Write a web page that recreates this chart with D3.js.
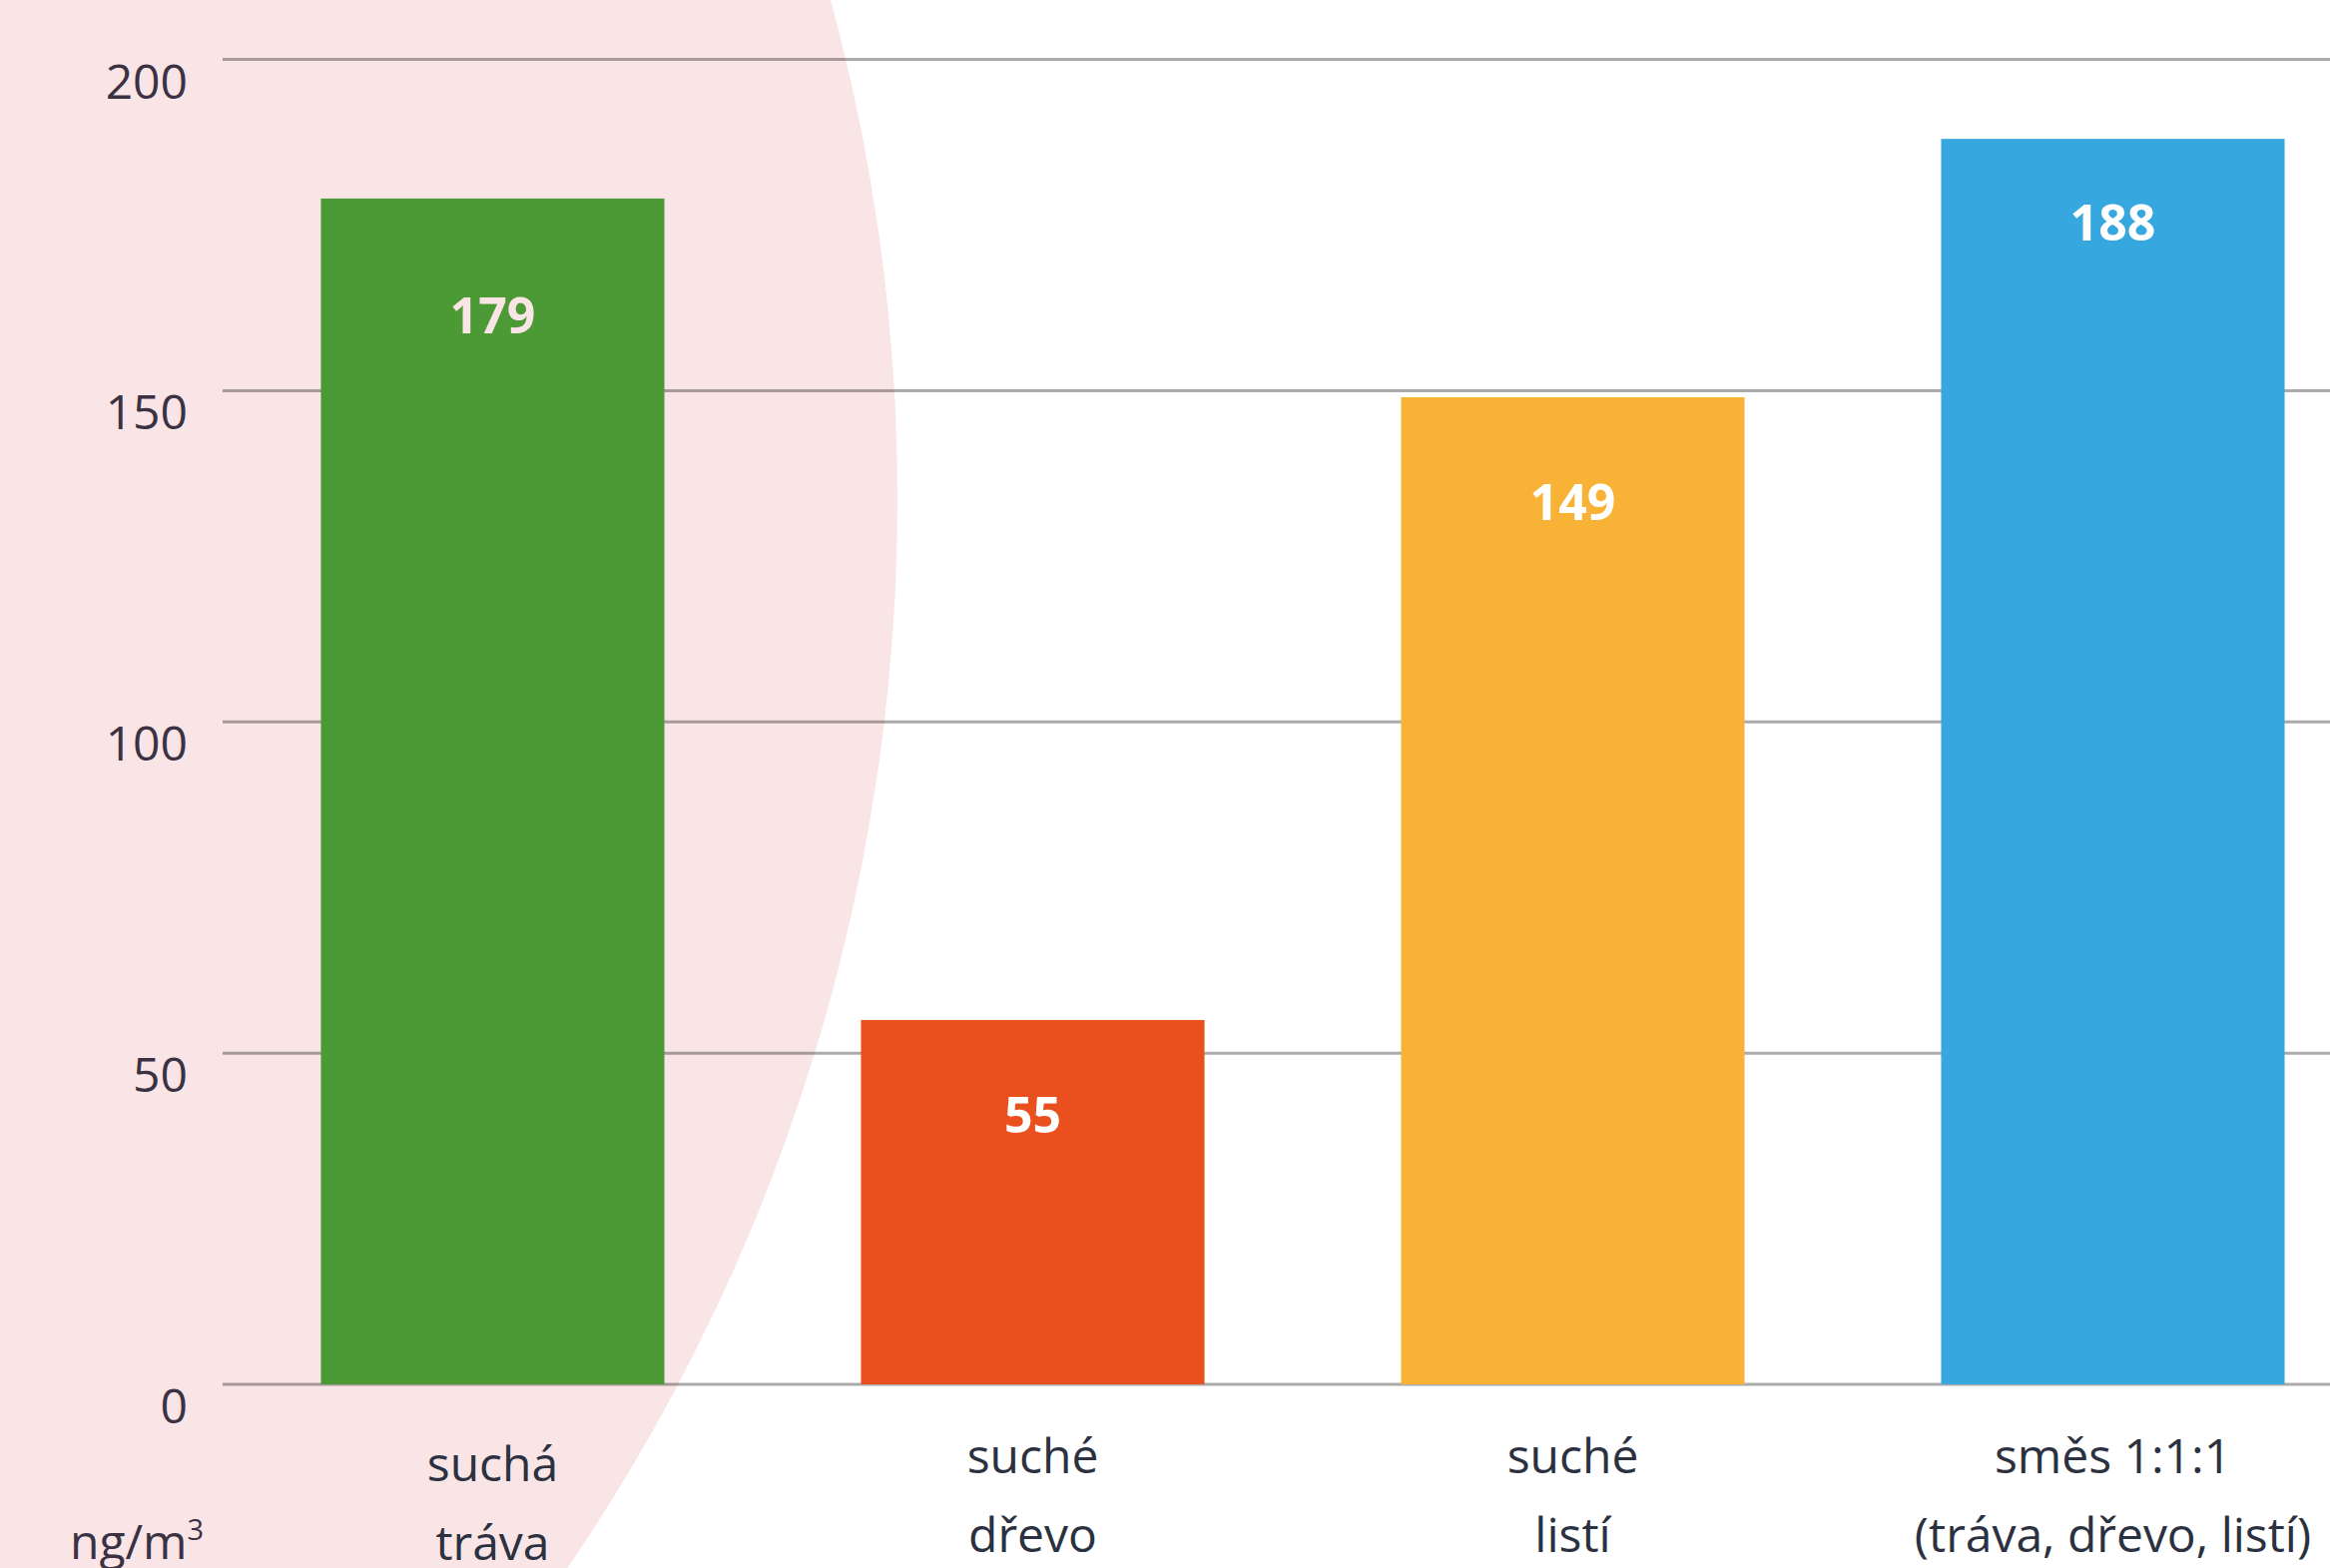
<!DOCTYPE html>
<html>
<head>
<meta charset="utf-8">
<script src="https://cdn.jsdelivr.net/npm/d3@7"></script>
<style>
  html, body { margin: 0; padding: 0; background: #ffffff; }
  svg { display: block; }
</style>
</head>
<body>
<script>
// ---- data ----
const categories = [["suchá", "tráva"], ["suché", "dřevo"], ["suché", "listí"], ["směs 1:1:1", "(tráva, dřevo, listí)"]];
const values = [179, 55, 149, 188];
const barColors = ["#4c9a35", "#e9501e", "#f8b236", "#37a8df"];
const labelColors = ["#fae5e6", "#ffffff", "#ffffff", "#ffffff"];
const yTicks = [0, 50, 100, 150, 200];
const unitLabel = "ng/m";
const unitSup = "3";

const W = 2334, H = 1571;
const svg = d3.select("body").append("svg").attr("width", W).attr("height", H)
  .style("font-family", "'Open Sans', sans-serif");

// pink background circle
svg.append("circle").attr("cx", -1001).attr("cy", 500).attr("r", 1900).attr("fill", "#fae5e6");

const x = d3.scaleBand().domain(d3.range(values.length)).range([223, 2387])
  .paddingInner(0.364).paddingOuter(0.182);
const y = d3.scaleLinear().domain([0, 200]).range([1387, 59.5]);

// gridlines
svg.append("g").selectAll("line").data(yTicks).join("line")
  .attr("x1", 223).attr("x2", W)
  .attr("y1", d => y(d)).attr("y2", d => y(d))
  .attr("stroke", "#000").attr("stroke-opacity", 0.33).attr("stroke-width", 3);

// y tick labels
svg.append("g").selectAll("text").data(yTicks).join("text")
  .attr("x", 188).attr("y", d => y(d) + 39)
  .attr("text-anchor", "end")
  .attr("font-size", 48).attr("fill", "#3a3242")
  .text(d => d);

// bars
svg.append("g").selectAll("rect").data(values).join("rect")
  .attr("x", (d, i) => x(i)).attr("width", x.bandwidth())
  .attr("y", d => y(d)).attr("height", d => y(0) - y(d))
  .attr("fill", (d, i) => barColors[i]);

// value labels
const labelDy = [135, 113, 123, 102];
svg.append("g").selectAll("text").data(values).join("text")
  .attr("x", (d, i) => x(i) + x.bandwidth() / 2)
  .attr("y", (d, i) => y(d) + labelDy[i])
  .attr("text-anchor", "middle")
  .attr("font-size", 50).attr("font-weight", 700)
  .attr("fill", (d, i) => labelColors[i])
  .text(d => d);

// category labels
const catShift = [8, 0, 0, 0];
const cat = svg.append("g").selectAll("text").data(categories).join("text")
  .attr("text-anchor", "middle")
  .attr("font-size", 48).attr("fill", "#2b3140");
cat.each(function(lines, i) {
  const t = d3.select(this);
  lines.forEach((ln, j) => {
    t.append("tspan").attr("x", x(i) + x.bandwidth() / 2)
      .attr("y", 1476 + catShift[i] + j * 79).text(ln);
  });
});

// unit label
const u = svg.append("text").attr("x", 70).attr("y", 1562)
  .attr("font-size", 48).attr("fill", "#3a3242");
u.append("tspan").text(unitLabel);
u.append("tspan").attr("font-size", 29).attr("dy", -19).text(unitSup);
</script>
</body>
</html>
